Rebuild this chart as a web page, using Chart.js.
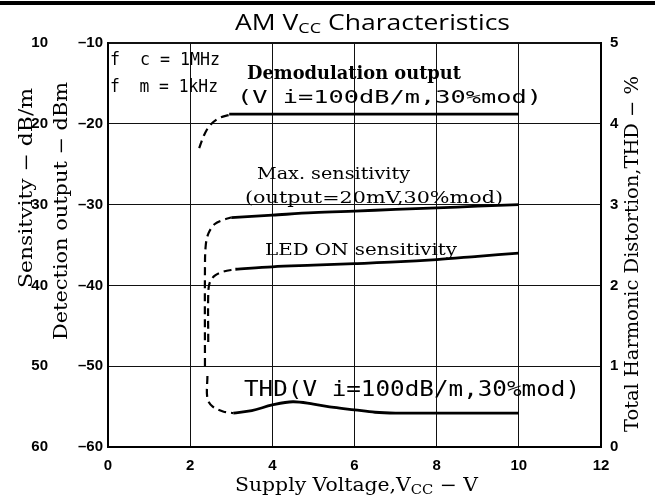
<!DOCTYPE html>
<html>
<head>
<meta charset="utf-8">
<script src="https://cdn.jsdelivr.net/npm/chart.js@4.4.1/dist/chart.umd.min.js"></script>
<style>
  html,body{margin:0;padding:0;background:#fff}
  #wrap{width:655px;height:504px;position:relative}
</style>
</head>
<body>
<div id="wrap"><canvas id="chart" width="655" height="504"></canvas></div>
<script>
// axis ticks
const xTicks = [0, 2, 4, 6, 8, 10, 12];
const detTicks = [-10, -20, -30, -40, -50, -60];
const sensTicks = [10, 20, 30, 40, 50, 60];
const thdTicks = [0, 1, 2, 3, 4, 5];

// Demodulation output (dBm)
const demodDashV = [2.22, 2.33, 2.48, 2.7, 2.95];
const demodDashDbm = [-23.0, -21.5, -20.2, -19.3, -18.9];
const demodV = [2.95, 4, 6, 8, 10];
const demodDbm = [-18.8, -18.8, -18.8, -18.8, -18.8];

// Max. sensitivity
const maxDashV = [2.36, 2.36, 2.38, 2.45, 2.6, 2.8, 3.0];
const maxDashDbm = [-50, -38, -35, -33.5, -32.4, -31.9, -31.6];
const maxV = [3.0, 4, 5, 6, 7, 8, 9, 10];
const maxDbm = [-31.6, -31.3, -31.0, -30.8, -30.6, -30.4, -30.2, -30.0];

// LED ON sensitivity
const ledDashV = [2.44, 2.44, 2.48, 2.6, 2.8, 3.1];
const ledDashDbm = [-47, -41, -39.6, -38.8, -38.3, -38.0];
const ledV = [3.1, 4, 5, 6, 7, 8, 9, 10];
const ledDbm = [-38.0, -37.7, -37.5, -37.3, -37.1, -36.8, -36.4, -36.0];

// THD (%)
const thdDashV = [2.42, 2.42, 2.55, 2.8, 3.05];
const thdDashPct = [0.88, 0.6, 0.5, 0.44, 0.42];
const thdV = [3.05, 3.5, 4, 4.5, 5, 5.5, 6, 6.5, 7, 8, 9, 10];
const thdPct = [0.42, 0.45, 0.52, 0.56, 0.53, 0.49, 0.46, 0.43, 0.42, 0.42, 0.42, 0.42];

const pts = (xs, ys) => xs.map((x, i) => ({x, y: ys[i]}));
const line = (xs, ys, axis, dashed) => ({
  data: pts(xs, ys), yAxisID: axis, showLine: true, pointRadius: 0,
  borderColor: '#000', borderWidth: dashed ? 2.2 : 2.8,
  borderDash: dashed ? [8, 5] : [], tension: 0.35, fill: false
});

// draw a run of text pieces, stretched to a target width
function rich(ctx, parts, x, y, w, rot){
  let total = 0;
  for (const p of parts){ ctx.font = p.f; total += ctx.measureText(p.t).width; }
  ctx.save();
  ctx.translate(x, y);
  if (rot) ctx.rotate(-Math.PI/2);
  ctx.scale(w/total, 1);
  ctx.fillStyle = '#000'; ctx.textBaseline = 'middle'; ctx.textAlign = 'left';
  let cx = 0;
  for (const p of parts){ ctx.font = p.f; ctx.fillText(p.t, cx, p.dy || 0); cx += ctx.measureText(p.t).width; }
  ctx.restore();
}

const SERIF = '"DejaVu Serif"';
const MONO = '"DejaVu Sans Mono"';
const labels = {
  id: 'labels',
  afterDraw(chart){
    const ctx = chart.ctx;
    ctx.save();
    ctx.fillStyle = '#000';
    ctx.fillRect(0, 1, 655, 4);
    rich(ctx, [{t:'AM V', f:'22px "Open Sans"'}, {t:'CC', f:'15px "Open Sans"', dy:5}, {t:' Characteristics', f:'22px "Open Sans"'}], 235, 24, 275);
    rich(ctx, [{t:'f  c = 1MHz', f:'17px '+MONO}], 110, 61, 110);
    rich(ctx, [{t:'f  m = 1kHz', f:'17px '+MONO}], 110, 88, 108);
    rich(ctx, [{t:'Demodulation output', f:'bold 18px '+SERIF}], 247, 74, 214);
    rich(ctx, [{t:'(V i=100dB/m,30%mod)', f:'18px '+MONO}], 237, 98, 305);
    rich(ctx, [{t:'Max. sensitivity', f:'17px '+SERIF}], 257, 175, 153);
    rich(ctx, [{t:'(output=20mV,30%mod)', f:'17px '+SERIF}], 245, 199, 258);
    rich(ctx, [{t:'LED ON sensitivity', f:'17px '+SERIF}], 265, 251, 192);
    rich(ctx, [{t:'THD(V i=100dB/m,30%mod)', f:'21px '+MONO}], 244, 391, 336);
    rich(ctx, [{t:'Supply Voltage,V', f:'18px '+SERIF}, {t:'CC', f:'13px '+SERIF, dy:5}, {t:' − V', f:'18px '+SERIF}], 235, 486, 243);
    rich(ctx, [{t:'Detection output − dBm', f:'18px '+SERIF}], 62, 340, 258, true);
    rich(ctx, [{t:'Sensitvity − dB/m', f:'18px '+SERIF}], 27, 288, 200, true);
    rich(ctx, [{t:'Total Harmonic Distortion,THD − %', f:'18px '+SERIF}], 633, 432, 356, true);
    ctx.restore();
  }
};

const tickFont = {family: '"Liberation Sans"', size: 15, weight: 'bold'};
const fixed = (w) => (s) => { s.width = w; };

new Chart(document.getElementById('chart'), {
  type: 'scatter',
  data: {
    datasets: [
      line(demodDashV, demodDashDbm, 'y', true),
      line(demodV, demodDbm, 'y', false),
      line(maxDashV, maxDashDbm, 'y', true),
      line(maxV, maxDbm, 'y', false),
      line(ledDashV, ledDashDbm, 'y', true),
      line(ledV, ledDbm, 'y', false),
      line(thdDashV, thdDashPct, 'y3', true),
      line(thdV, thdPct, 'y3', false)
    ]
  },
  options: {
    responsive: false, animation: false,
    layout: {padding: {top: 43, left: 0, right: 0, bottom: 0}},
    plugins: {legend: {display: false}, tooltip: {enabled: false}},
    scales: {
      x: {
        type: 'linear', min: 0, max: 12,
        afterBuildTicks: (s) => { s.ticks = xTicks.map(v => ({value: v})); },
        afterFit: (s) => { s.height = 57; },
        ticks: {color: '#000', font: tickFont, padding: 10},
        grid: {color: '#111', lineWidth: (c) => (c.tick && (c.tick.value === 12) ? 2 : 1), drawTicks: false},
        border: {color: '#000', width: 2}
      },
      y: {
        position: 'left', weight: 0, min: -60, max: -10,
        afterBuildTicks: (s) => { s.ticks = detTicks.map(v => ({value: v})); },
        afterFit: fixed(40),
        ticks: {color: '#000', font: tickFont, padding: 5, callback: (v) => '–' + Math.abs(v)},
        grid: {color: '#111', lineWidth: (c) => (c.tick && (c.tick.value === -10) ? 2 : 1), drawTicks: false},
        border: {color: '#000', width: 2}
      },
      y2: {
        position: 'left', weight: 1, min: 10, max: 60, reverse: true,
        afterBuildTicks: (s) => { s.ticks = sensTicks.map(v => ({value: v})); },
        afterFit: fixed(68),
        ticks: {color: '#000', font: tickFont, padding: 20},
        grid: {display: false, drawTicks: false},
        border: {display: false}
      },
      y3: {
        position: 'right', min: 0, max: 5,
        afterBuildTicks: (s) => { s.ticks = thdTicks.map(v => ({value: v})); },
        afterFit: fixed(54),
        ticks: {color: '#000', font: tickFont, padding: 9},
        grid: {display: false, drawTicks: false},
        border: {color: '#000', width: 2}
      }
    }
  },
  plugins: [labels]
});
</script>
</body>
</html>
